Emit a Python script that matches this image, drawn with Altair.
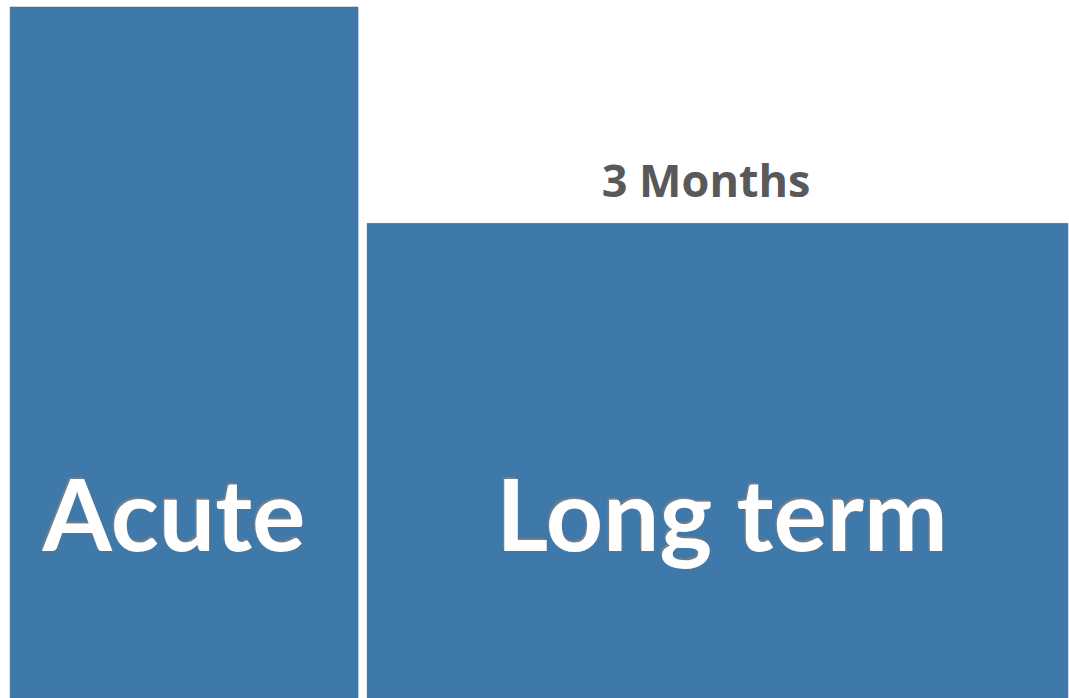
import altair as alt
import pandas as pd

# Bars (timeline segments)
categories = ["Acute", "Long term"]
seg_start = [0.0, 1.026]
seg_end = [1.0, 3.04]
seg_height = [0.99, 0.68]

# Labels inside bars
label_x = [0.471, 2.046]
label_y = [0.211, 0.211]

# Annotation above bar 2
note_text = ["3 Months"]
note_x = [2.0]
note_y = [0.718]

bars_df = pd.DataFrame({"category": categories, "start": seg_start, "end": seg_end, "h": seg_height})
labels_df = pd.DataFrame({"category": categories, "x": label_x, "y": label_y})
note_df = pd.DataFrame({"text": note_text, "x": note_x, "y": note_y})

xs = alt.Scale(domain=[-0.029, 3.043], nice=False, zero=False)
ys = alt.Scale(domain=[0, 1.0], nice=False)

bars = alt.Chart(bars_df).mark_rect(color="#3F79AA", stroke="#3A6E9C", strokeWidth=0.5).encode(
    x=alt.X("start:Q", scale=xs, axis=None),
    x2="end:Q",
    y=alt.Y("h:Q", scale=ys, axis=None),
    y2=alt.datum(0),
)

shadow = alt.Chart(labels_df).mark_text(
    font="Lato", fontWeight="bold", fontSize=100, color="#7f7f7f", opacity=0.8,
    baseline="alphabetic", align="center", dx=-1.5, dy=-1.5,
).encode(x=alt.X("x:Q", scale=xs), y=alt.Y("y:Q", scale=ys), text="category:N")

labels = alt.Chart(labels_df).mark_text(
    font="Lato", fontWeight="bold", fontSize=100, color="white",
    baseline="alphabetic", align="center",
).encode(x=alt.X("x:Q", scale=xs), y=alt.Y("y:Q", scale=ys), text="category:N")

note = alt.Chart(note_df).mark_text(
    font="Open Sans", fontWeight="bold", fontSize=45, color="#595959",
    baseline="alphabetic", align="center",
).encode(x=alt.X("x:Q", scale=xs), y=alt.Y("y:Q", scale=ys), text="text:N")

chart = alt.layer(bars, shadow, labels, note).properties(
    width=1069, height=698, padding=0, autosize=alt.AutoSizeParams(type="none")
).configure_view(stroke=None)

chart.save("out.html", embed_options={"renderer": "svg", "actions": False})
